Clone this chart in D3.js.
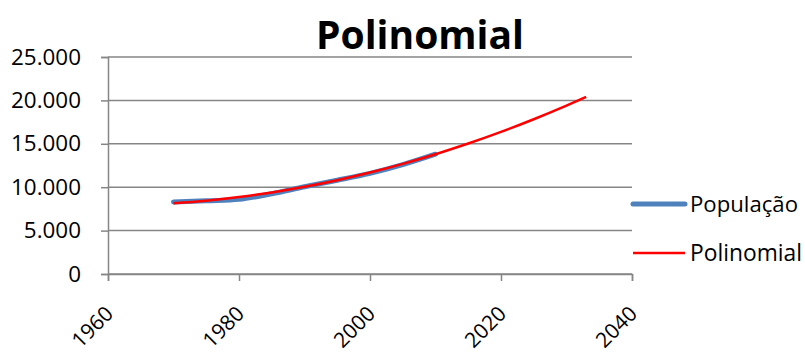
<!DOCTYPE html>
<html>
<head>
<meta charset="utf-8">
<script src="https://cdn.jsdelivr.net/npm/d3@7"></script>
<style>
  html, body { margin: 0; padding: 0; background: #fff; }
  svg { display: block; font-family: "Open Sans", "DejaVu Sans", sans-serif; }
</style>
</head>
<body>
<svg id="chart" width="805" height="354"></svg>
<script>
// Population series (observed) and the polynomial trend line
const popYears   = [1970, 1975, 1980, 1985, 1990, 1995, 2000, 2005, 2010];
const popValues  = [8300, 8450, 8600, 9250, 10050, 10800, 11600, 12600, 13800];

const trendYears  = [1970, 1975, 1980, 1985, 1990, 1995, 2000, 2005, 2010, 2015, 2020, 2025, 2030, 2033];
const trendValues = [8150, 8450, 8870, 9400, 10050, 10810, 11690, 12690, 13800, 15030, 16370, 17830, 19400, 20400];

const xTicks = [1960, 1980, 2000, 2020, 2040];
const yTicks = [0, 5000, 10000, 15000, 20000, 25000];

const seriesNames = ["População", "Polinomial"];
const seriesColors = ["#4F81BD", "#FF0000"];
const titleText = "Polinomial";

const svg = d3.select("#chart");
const plot = { left: 108, right: 632, top: 57, bottom: 274 };

const x = d3.scaleLinear().domain([1960, 2040]).range([plot.left, plot.right]);
const y = d3.scaleLinear().domain([0, 25000]).range([plot.bottom, plot.top]);

const fmt = v => d3.format(",")(v).replace(/,/g, ".");
const gridColor = "#868686";

// scale a text's font size so its rendered width equals `width`
function fitWidth(sel, width) {
  sel.each(function () {
    const fs = parseFloat(this.getAttribute("font-size"));
    const w = this.getComputedTextLength();
    if (w > 0) this.setAttribute("font-size", (fs * width / w).toFixed(2));
  });
}

// horizontal gridlines
svg.append("g")
  .selectAll("line")
  .data(yTicks)
  .join("line")
  .attr("x1", plot.left).attr("x2", plot.right)
  .attr("y1", d => y(d)).attr("y2", d => y(d))
  .attr("stroke", gridColor).attr("stroke-width", 1.5);

// y axis
const yAxis = svg.append("g")
  .attr("transform", `translate(${plot.left},0)`)
  .call(d3.axisLeft(y).tickValues(yTicks).tickFormat(fmt).tickSize(7).tickPadding(20));
yAxis.select(".domain").attr("stroke", gridColor).attr("stroke-width", 1.5);
yAxis.selectAll(".tick line").attr("stroke", gridColor).attr("stroke-width", 1.5);
const yLabels = yAxis.selectAll(".tick text").attr("fill", "#000").attr("font-size", 22)
  .attr("font-family", "'Open Sans', sans-serif");
// size from the widest label
const widest = yLabels.filter(d => d === 25000);
widest.call(fitWidth, 70);
yLabels.attr("font-size", widest.attr("font-size"));

// x axis with rotated year labels
const xAxis = svg.append("g")
  .attr("transform", `translate(0,${plot.bottom})`)
  .call(d3.axisBottom(x).tickValues(xTicks).tickFormat(d3.format("d")).tickSize(7));
xAxis.select(".domain").attr("stroke", gridColor).attr("stroke-width", 1.5);
xAxis.selectAll(".tick line").attr("stroke", gridColor).attr("stroke-width", 1.5);
xAxis.selectAll(".tick text")
  .attr("fill", "#000").attr("font-size", 21)
  .attr("font-family", "'Open Sans', sans-serif")
  .attr("text-anchor", "end")
  .attr("x", 0).attr("y", 0).attr("dy", 0)
  .attr("transform", "translate(6,41) rotate(-45)");

const line = d3.line().x(d => x(d[0])).y(d => y(d[1])).curve(d3.curveCatmullRom);

// population line
svg.append("path")
  .datum(d3.zip(popYears, popValues))
  .attr("d", line)
  .attr("fill", "none")
  .attr("stroke", seriesColors[0])
  .attr("stroke-width", 5)
  .attr("stroke-linecap", "round");

// polynomial trend
svg.append("path")
  .datum(d3.zip(trendYears, trendValues))
  .attr("d", line)
  .attr("fill", "none")
  .attr("stroke", seriesColors[1])
  .attr("stroke-width", 2.5);

// title
svg.append("text")
  .attr("x", 420).attr("y", 49)
  .attr("text-anchor", "middle")
  .attr("font-size", 38).attr("font-weight", "bold")
  .attr("fill", "#000")
  .text(titleText)
  .call(fitWidth, 208);

// legend
const legend = svg.append("g");
const legendY = [204, 253];
const legendWidths = [108, 112];
seriesNames.forEach((name, i) => {
  legend.append("line")
    .attr("x1", 633).attr("x2", 685)
    .attr("y1", legendY[i]).attr("y2", legendY[i])
    .attr("stroke", seriesColors[i])
    .attr("stroke-width", i === 0 ? 5 : 2.5)
    .attr("stroke-linecap", i === 0 ? "round" : "butt");
  legend.append("text")
    .attr("x", 690).attr("y", legendY[i] + 8)
    .attr("font-size", 21).attr("fill", "#000")
    .text(name)
    .call(fitWidth, legendWidths[i]);
});
</script>
</body>
</html>
